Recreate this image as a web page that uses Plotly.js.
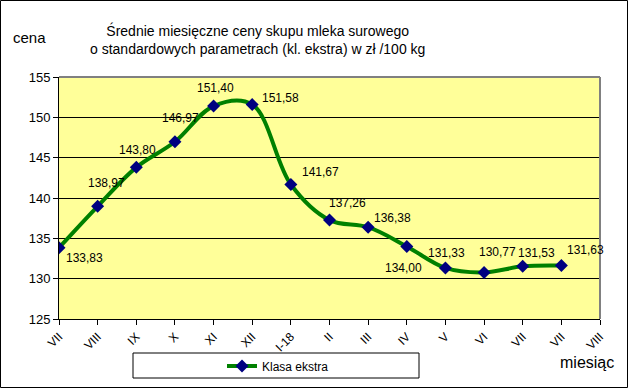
<!DOCTYPE html>
<html>
<head>
<meta charset="utf-8">
<script src="https://cdn.plot.ly/plotly-3.0.1.min.js"></script>
<style>html,body{margin:0;padding:0;background:#fff;}#chart{width:628px;height:388px;}</style>
</head>
<body>
<div id="chart"></div>
<script>
// Month categories on the x axis (15 ticks)
const categories = ["VII","VIII","IX","X","XI","XII","I-18","II","III","IV","V","VI","VII","VII","VIII"];
// Klasa ekstra prices, zł / 100 kg
const seriesName = "Klasa ekstra";
const values = [133.83,138.97,143.80,146.97,151.40,151.58,141.67,137.26,136.38,134.00,131.33,130.77,131.53,131.63];
const yTicks = [125,130,135,140,145,150,155];

// label offsets in px (style only)
const labelOffsets = [[25,-10],[9,23],[1,17],[6,24],[2,18],[28,7],[30,13],[18,17],[24,9],[-3,-22],[1,15],[13,20],[14,13],[24,16]];

const xIdx = values.map((v,i)=>i);
const font = "Liberation Sans, Arial, sans-serif";

const trace = {
  x: xIdx, y: values, type: "scatter", mode: "lines+markers", name: seriesName,
  line: {color: "#008000", width: 4, shape: "spline", smoothing: 1},
  marker: {symbol: "diamond", size: 10, color: "#000080", line: {width: 0}},
  hoverinfo: "none"
};

const annotations = values.map((v,i)=>({
  x: i, y: v, xref: "x", yref: "y", showarrow: false,
  xanchor: "center", yanchor: "middle",
  text: v.toFixed(2).replace(".", ","),
  xshift: labelOffsets[i][0], yshift: labelOffsets[i][1],
  font: {family: font, size: 12, color: "#000"}
}));

const W = 628, H = 388;
const L = 59, R = 28, T = 77, B = 69;
const cx = p => p / W;
const cy = p => 1 - p / H;
const px = p => (p - L) / (W - L - R);
const py = p => (H - B - p) / (H - T - B);

annotations.push({xref:"paper", yref:"paper", x: px(257), y: py(39), showarrow:false,
  xanchor:"center", yanchor:"middle",
  text:"Średnie miesięczne ceny skupu mleka surowego<br>o standardowych parametrach (kl. ekstra) w zł /100 kg",
  font:{family:font,size:14,color:"#000"}, align:"center"});
annotations.push({xref:"paper", yref:"paper", x: px(29), y: py(37), showarrow:false,
  xanchor:"center", yanchor:"middle",
  text:"cena", font:{family:font,size:15,color:"#000"}});
annotations.push({xref:"paper", yref:"paper", x: px(587), y: py(362), showarrow:false,
  xanchor:"center", yanchor:"middle",
  text:"miesiąc", font:{family:font,size:16,color:"#000"}});

const shapes = [
  {type:"line", xref:"paper", yref:"paper", x0:0, x1:1, y0:1, y1:1, line:{color:"#808080", width:2}},
  {type:"line", xref:"paper", yref:"paper", x0:1, x1:1, y0:0, y1:1, line:{color:"#808080", width:2}},
  {type:"rect", xref:"paper", yref:"paper", x0:px(133), x1:px(419), y0:py(378), y1:py(353), line:{color:"#000", width:1}, fillcolor:"rgba(0,0,0,0)"},
  {type:"rect", xref:"paper", yref:"paper", x0:px(0.5), x1:px(627.5), y0:py(387.5), y1:py(0.5), line:{color:"#000", width:1}, fillcolor:"rgba(0,0,0,0)"}
];

const layout = {
  width: W, height: H,
  margin: {l: L, r: R, t: T, b: B, pad: 0, autoexpand: false},
  paper_bgcolor: "#fff", plot_bgcolor: "#FFFF99",
  font: {family: font, size: 12, color: "#000"},
  showlegend: true,
  legend: {orientation: "h", xref: "container", yref: "container", x: cx(222), y: cy(366),
    xanchor: "left", yanchor: "middle",
    bgcolor: "rgba(0,0,0,0)", borderwidth: 0, font: {family: font, size: 12, color:"#000"}},
  xaxis: {
    range: [0, categories.length - 1], tickmode: "array",
    tickvals: categories.map((c,i)=>i), ticktext: categories,
    tickangle: -45, ticks: "outside", ticklen: 5, tickcolor: "#000",
    showline: true, linecolor: "#000", linewidth: 1, showgrid: false, zeroline: false,
    tickfont: {family: font, size: 12, color: "#000"}, fixedrange: true, automargin: false
  },
  yaxis: {
    range: [125, 155], tickmode: "array", tickvals: yTicks, ticktext: yTicks.map(String),
    ticks: "outside", ticklen: 5, tickcolor: "#000",
    showline: true, linecolor: "#000", linewidth: 1,
    showgrid: true, gridcolor: "#000", gridwidth: 1, zeroline: false,
    tickfont: {family: font, size: 13, color: "#000"}, fixedrange: true, automargin: false
  },
  annotations: annotations,
  shapes: shapes
};

Plotly.newPlot("chart", [trace], layout, {displayModeBar: false, staticPlot: true});
</script>
</body>
</html>
